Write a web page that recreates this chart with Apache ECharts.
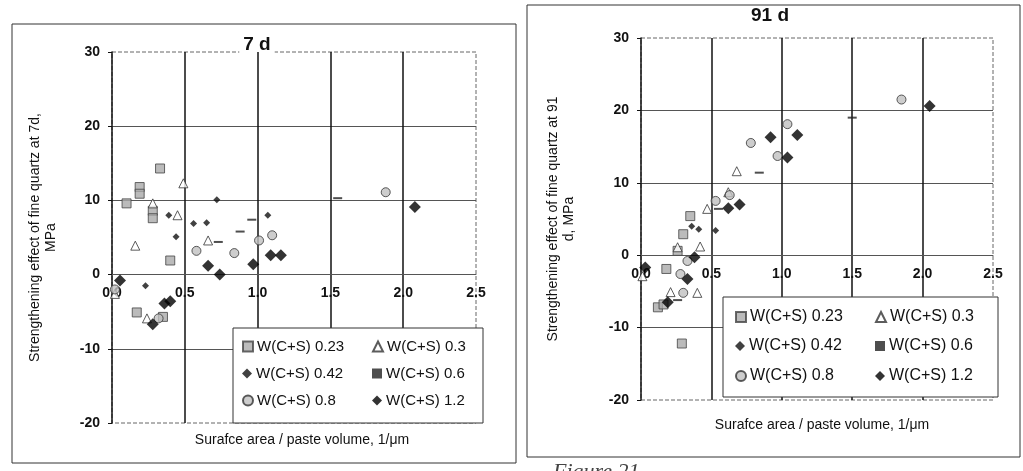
<!DOCTYPE html>
<html>
<head>
<meta charset="utf-8">
<script src="https://cdn.jsdelivr.net/npm/echarts@6/dist/echarts.min.js"></script>
<style>
  html, body { margin: 0; padding: 0; background: #fff; }
  #chart { width: 1023px; height: 471px; }
</style>
</head>
<body>
<div id="chart"></div>
<script>
// legend names
const seriesNames = ['W(C+S) 0.23', 'W(C+S) 0.3', 'W(C+S) 0.42', 'W(C+S) 0.6', 'W(C+S) 0.8', 'W(C+S) 1.2']
const xTicks = [0, 0.5, 1, 1.5, 2, 2.5]
const yTicks = [-20, -10, 0, 10, 20, 30]

// 7 d  [surface area / paste volume, strengthening effect]
const d7w023 = [[0.33, 14.3], [0.19, 11.8], [0.19, 10.9], [0.10, 9.6], [0.28, 8.6], [0.28, 7.6], [0.40, 1.9], [0.17, -5.1], [0.35, -5.7]]
const d7w03 = [[0.49, 12.3], [0.28, 9.6], [0.45, 8.0], [0.16, 3.9], [0.66, 4.6], [0.24, -5.9], [0.02, -2.6]]
const d7w042 = [[0.72, 10.1], [0.39, 8.0], [0.56, 6.9], [0.65, 7.0], [0.44, 5.1], [1.07, 8.0], [0.23, -1.5]]
const d7w06 = [[0.96, 7.4], [0.88, 5.8], [0.73, 4.4], [1.55, 10.3]]
const d7w08 = [[0.58, 3.2], [0.84, 2.9], [1.10, 5.3], [1.01, 4.6], [1.88, 11.1], [0.32, -5.9], [0.02, -2.0]]
const d7w12 = [[1.16, 2.6], [1.09, 2.6], [0.97, 1.4], [0.74, 0.0], [0.66, 1.2], [2.08, 9.1], [0.055, -0.8], [0.36, -3.9], [0.40, -3.6], [0.28, -6.7]]

// 91 d
const d91w023 = [[0.35, 5.4], [0.30, 2.9], [0.26, 0.6], [0.18, -1.9], [0.12, -7.2], [0.16, -6.8], [0.29, -12.2]]
const d91w03 = [[0.47, 6.4], [0.68, 11.6], [0.62, 8.7], [0.26, 1.1], [0.42, 1.2], [0.21, -5.1], [0.40, -5.2], [0.01, -2.9]]
const d91w042 = [[0.36, 4.0], [0.41, 3.6], [0.53, 3.4]]
const d91w06 = [[0.84, 11.4], [1.50, 19.0], [0.26, -6.2], [0.55, 6.4]]
const d91w08 = [[0.53, 7.5], [0.78, 15.5], [1.04, 18.1], [0.97, 13.7], [1.85, 21.5], [0.63, 8.3], [0.33, -0.8], [0.28, -2.6], [0.30, -5.2]]
const d91w12 = [[0.92, 16.3], [1.11, 16.6], [1.04, 13.5], [2.05, 20.6], [0.62, 6.5], [0.70, 7.0], [0.38, -0.3], [0.03, -1.7], [0.33, -3.3], [0.19, -6.5]]

const font = 'Liberation Sans, Arial, sans-serif'

// marker look for each water/binder group
const markers = [
  { symbol: 'rect', size: 9, itemStyle: { color: '#aaa', borderColor: '#444', borderWidth: 1 } },
  { symbol: 'triangle', size: 9, itemStyle: { color: '#fff', borderColor: '#333', borderWidth: 1 } },
  { symbol: 'diamond', size: 7, itemStyle: { color: '#111' } },
  { symbol: 'rect', size: [9, 2], itemStyle: { color: '#222' } },
  { symbol: 'circle', size: 9, itemStyle: { color: '#c0c0c0', borderColor: '#333', borderWidth: 1 } },
  { symbol: 'diamond', size: 12, itemStyle: { color: '#000' } }
]

function makeSeries (dataList, gi) {
  return dataList.map((d, i) => ({
    type: 'scatter',
    name: seriesNames[i],
    xAxisIndex: gi,
    yAxisIndex: gi,
    data: d,
    symbol: markers[i].symbol,
    symbolSize: markers[i].size,
    itemStyle: markers[i].itemStyle
  }))
}

// x axis sits on y = 0 (2/5 of the plot height above the bottom)
function makeX (gi, plotH) {
  return {
    gridIndex: gi,
    type: 'value',
    min: xTicks[0],
    max: xTicks[xTicks.length - 1],
    interval: 0.5,
    position: 'bottom',
    offset: -plotH * 20 / 50,
    axisLine: { onZero: false, lineStyle: { color: '#555', width: 1 } },
    axisTick: { show: false },
    axisLabel: {
      margin: 12,
      fontFamily: font,
      fontWeight: 'bold',
      fontSize: 14,
      color: '#111',
      formatter: v => v.toFixed(1)
    },
    splitLine: {
      lineStyle: { color: ['transparent', '#111', '#111', '#111', '#111', 'transparent'], width: 1.5 }
    }
  }
}

function makeY (gi, name, gap) {
  return {
    gridIndex: gi,
    type: 'value',
    min: yTicks[0],
    max: yTicks[yTicks.length - 1],
    interval: 10,
    name: name,
    nameLocation: 'middle',
    nameRotate: 90,
    nameGap: gap,
    nameTextStyle: { fontFamily: font, fontSize: 14, color: '#111', lineHeight: 16 },
    axisLine: { onZero: false, lineStyle: { color: '#111', width: 1.5 } },
    axisTick: { show: true, length: 4, lineStyle: { color: '#111' } },
    axisLabel: { margin: 12, fontFamily: font, fontWeight: 'bold', fontSize: 14, color: '#111' },
    splitLine: {
      lineStyle: { color: ['transparent', '#555', '#555', '#555', '#555', 'transparent'], width: 1 }
    }
  }
}

// one legend per entry, laid out in a 2 x 3 table inside a framed box
function makeLegends (colX, rowY, fs) {
  return seriesNames.map((name, i) => ({
    left: colX[i % 2] - 5,
    top: rowY[Math.floor(i / 2)] - 9,
    padding: 0,
    data: [name],
    itemWidth: 10,
    itemHeight: 10,
    itemGap: 0,
    textStyle: { fontFamily: font, fontSize: fs, color: '#111', padding: [0, 0, 0, -1] }
  }))
}

const chart = echarts.init(document.getElementById('chart'), null, { renderer: 'canvas' })

const option = {
  backgroundColor: '#fff',
  animation: false,
  grid: [
    { left: 112, top: 52, width: 364, height: 371, show: true, borderColor: '#666', borderWidth: 1, borderType: 'dashed' },
    { left: 641, top: 38, width: 352, height: 362, show: true, borderColor: '#666', borderWidth: 1, borderType: 'dashed' }
  ],
  xAxis: [makeX(0, 371), makeX(1, 362)],
  yAxis: [
    makeY(0, 'Strengthening effect of fine quartz at 7d,\nMPa', 53),
    makeY(1, 'Strengthening effect of fine quartz at 91\nd, MPa', 64)
  ],
  legend: [
    ...makeLegends([247, 377], [348, 375, 402], 15),
    ...makeLegends([740, 880], [318, 347, 377], 16)
  ],
  graphic: [
    { type: 'rect', z: -10, shape: { x: 12, y: 24, width: 504, height: 439 }, style: { fill: 'none', stroke: '#333', lineWidth: 1 } },
    { type: 'rect', z: -10, shape: { x: 527, y: 5, width: 493, height: 452 }, style: { fill: 'none', stroke: '#333', lineWidth: 1 } },
    // legend frames
    { type: 'rect', z: 3, shape: { x: 233, y: 328, width: 250, height: 95 }, style: { fill: '#fff', stroke: '#333', lineWidth: 1 } },
    { type: 'rect', z: 3, shape: { x: 723, y: 297, width: 275, height: 100 }, style: { fill: '#fff', stroke: '#333', lineWidth: 1 } },
    { type: 'text', x: 257, y: 45, style: { text: '7 d', font: 'bold 19px ' + font, fill: '#111', align: 'center', verticalAlign: 'middle', backgroundColor: '#fff', padding: [0, 4] } },
    { type: 'text', x: 770, y: 16, style: { text: '91 d', font: 'bold 19px ' + font, fill: '#111', align: 'center', verticalAlign: 'middle' } },
    { type: 'text', x: 302, y: 440, style: { text: 'Surafce area / paste volume, 1/μm', font: '14px ' + font, fill: '#111', align: 'center', verticalAlign: 'middle' } },
    { type: 'text', x: 822, y: 425, style: { text: 'Surafce area / paste volume, 1/μm', font: '14px ' + font, fill: '#111', align: 'center', verticalAlign: 'middle' } },
    { type: 'text', x: 553, y: 461, style: { text: 'Figure 21', font: 'italic 22px Liberation Serif, serif', fill: '#444', align: 'left', verticalAlign: 'top' } }
  ],
  series: [
    ...makeSeries([d7w023, d7w03, d7w042, d7w06, d7w08, d7w12], 0),
    ...makeSeries([d91w023, d91w03, d91w042, d91w06, d91w08, d91w12], 1)
  ]
}

chart.setOption(option)
</script>
</body>
</html>
